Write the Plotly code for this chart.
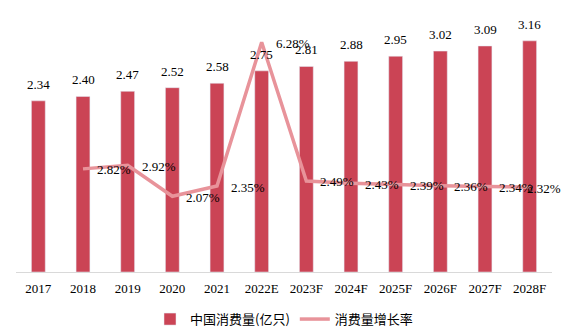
import plotly.graph_objects as go

categories = ["2017", "2018", "2019", "2020", "2021", "2022E", "2023F",
              "2024F", "2025F", "2026F", "2027F", "2028F"]
consumption = [2.34, 2.40, 2.47, 2.52, 2.58, 2.75, 2.81, 2.88, 2.95, 3.02, 3.09, 3.16]
growth = [None, 2.82, 2.92, 2.07, 2.35, 6.28, 2.49, 2.43, 2.39, 2.36, 2.34, 2.32]

BAR_COLOR = "#CB4455"
LINE_COLOR = "#E8939A"
SERIF = "Liberation Serif, Times New Roman, serif"
SANS = "Noto Sans CJK SC, sans-serif"

xs = list(range(len(categories)))

fig = go.Figure()
fig.add_trace(go.Bar(
    x=xs, y=consumption, name="中国消费量(亿只)",
    marker_color=BAR_COLOR, width=0.31,
))
fig.add_trace(go.Scatter(
    x=xs, y=growth, name="消费量增长率", yaxis="y2",
    mode="lines", line=dict(color=LINE_COLOR, width=3.5),
))

annotations = []
for x, v in zip(xs, consumption):
    annotations.append(dict(
        x=x, y=v, xref="x", yref="y", text=f"{v:.2f}", showarrow=False,
        yanchor="bottom", yshift=7, font=dict(family=SERIF, size=13, color="black"),
    ))
last_idx = len(growth) - 1
for x, v in zip(xs, growth):
    if v is None:
        continue
    annotations.append(dict(
        x=x, y=v, xref="x", yref="y2", text=f"{v:.2f}%", showarrow=False,
        xanchor="left", yanchor="middle", xshift=(-5 if x == last_idx else 12), yshift=-1,
        font=dict(family=SERIF, size=13, color="black"),
    ))

fig.update_layout(
    width=567, height=332,
    margin=dict(l=16, r=15, t=16, b=60, autoexpand=False),
    plot_bgcolor="white", paper_bgcolor="white",
    showlegend=True,
    legend=dict(orientation="h", x=0.5, xanchor="center", y=-0.184, yanchor="middle",
                font=dict(family=SANS, size=13, color="black"), itemwidth=30,
                traceorder="normal"),
    xaxis=dict(range=[-0.5, len(categories) - 0.5], tickmode="array",
               tickvals=xs, ticktext=categories,
               showline=True, linecolor="#D9D9D9", linewidth=1, ticks="",
               zeroline=False, ticklabelstandoff=4, automargin=False,
               tickfont=dict(family=SERIF, size=13, color="black"), showgrid=False),
    yaxis=dict(range=[0, 3.5], visible=False, showgrid=False),
    yaxis2=dict(range=[0, 7], overlaying="y", side="right", visible=False, showgrid=False),
    annotations=annotations,
)

fig.write_html("out.html")
